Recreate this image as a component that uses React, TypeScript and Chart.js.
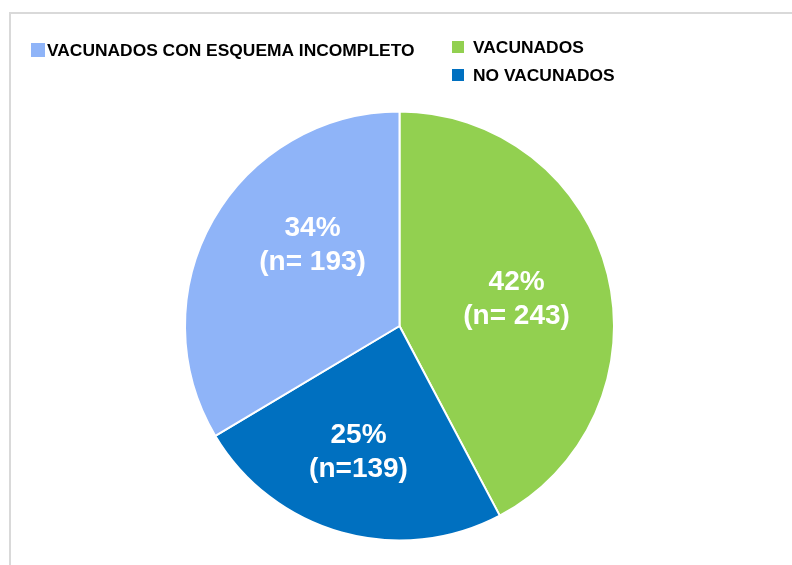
import { useEffect, useRef } from 'react';
import { Chart, registerables } from 'chart.js';

Chart.register(...registerables);

const categories = ['VACUNADOS', 'NO VACUNADOS', 'VACUNADOS CON ESQUEMA INCOMPLETO'];
const counts = [243, 139, 193];
const percentLabels = ['42%', '25%', '34%'];
const countLabels = ['(n= 243)', '(n=139)', '(n= 193)'];
const colors = ['#92D050', '#0070C0', '#8FB4F8'];

const FONT = '"Liberation Sans", Arial, Helvetica, sans-serif';

const framePlugin = {
  id: 'frame',
  beforeDraw(chart: any) {
    const ctx = chart.ctx;
    ctx.save();
    ctx.fillStyle = '#ffffff';
    ctx.fillRect(0, 0, chart.width, chart.height);
    ctx.strokeStyle = '#d9d9d9';
    ctx.lineWidth = 2;
    ctx.strokeRect(10, 13, chart.width + 50, chart.height + 50);
    ctx.restore();
  },
};

const legendPlugin = {
  id: 'customLegend',
  afterDraw(chart: any, _args: any, opts: any) {
    const ctx = chart.ctx;
    const labels = chart.data.labels as string[];
    const bg = chart.data.datasets[0].backgroundColor as string[];
    ctx.save();
    ctx.font = `bold 17.4px ${FONT}`;
    ctx.textBaseline = 'alphabetic';
    ctx.textAlign = 'left';
    for (const item of opts.items) {
      ctx.fillStyle = bg[item.index];
      ctx.fillRect(item.x, item.y, item.size, item.size);
      ctx.fillStyle = '#000000';
      ctx.fillText(labels[item.index], item.tx, item.ty);
    }
    ctx.restore();
  },
};

const sliceLabelPlugin = {
  id: 'sliceLabels',
  afterDatasetsDraw(chart: any, _args: any, opts: any) {
    const ctx = chart.ctx;
    const meta = chart.getDatasetMeta(0);
    ctx.save();
    ctx.font = `bold 28px ${FONT}`;
    ctx.fillStyle = '#ffffff';
    ctx.textAlign = 'center';
    ctx.textBaseline = 'middle';
    meta.data.forEach((arc: any, i: number) => {
      const p = arc.getProps(['x', 'y', 'startAngle', 'endAngle', 'outerRadius'], true);
      const place = opts.place[i];
      const mid = (p.startAngle + p.endAngle) / 2 + (place.shift * Math.PI) / 180;
      const r = p.outerRadius * place.factor;
      const cx = p.x + Math.cos(mid) * r;
      const cy = p.y + Math.sin(mid) * r;
      ctx.fillText(percentLabels[i], cx, cy - 17);
      ctx.fillText(countLabels[i], cx, cy + 17);
    });
    ctx.restore();
  },
};

export default function App() {
  const ref = useRef<HTMLCanvasElement | null>(null);

  useEffect(() => {
    document.body.style.margin = '0';
    if (!ref.current) return;
    const chart = new Chart(ref.current, {
      type: 'pie',
      data: {
        labels: categories,
        datasets: [
          {
            data: counts,
            backgroundColor: colors,
            borderColor: '#ffffff',
            borderWidth: 2,
          },
        ],
      },
      options: {
        responsive: false,
        animation: false,
        events: [],
        layout: { padding: { left: 184, right: 177, top: 110, bottom: 23 } },
        plugins: {
          legend: { display: false },
          tooltip: { enabled: false },
          customLegend: {
            items: [
              { index: 2, x: 31, y: 43, size: 14, tx: 47, ty: 56 },
              { index: 0, x: 452, y: 41, size: 12, tx: 473, ty: 53 },
              { index: 1, x: 452, y: 69, size: 12, tx: 473, ty: 81 },
            ],
          },
          sliceLabels: {
            place: [
              { factor: 0.56, shift: 1 },
              { factor: 0.62, shift: 2.3 },
              { factor: 0.554, shift: 13.4 },
            ],
          },
        } as any,
      },
      plugins: [framePlugin, legendPlugin, sliceLabelPlugin],
    });
    return () => chart.destroy();
  }, []);

  return (
    <div style={{ position: 'absolute', left: 0, top: 0, width: 792, height: 565 }}>
      <canvas ref={ref} width={792} height={565} />
    </div>
  );
}
